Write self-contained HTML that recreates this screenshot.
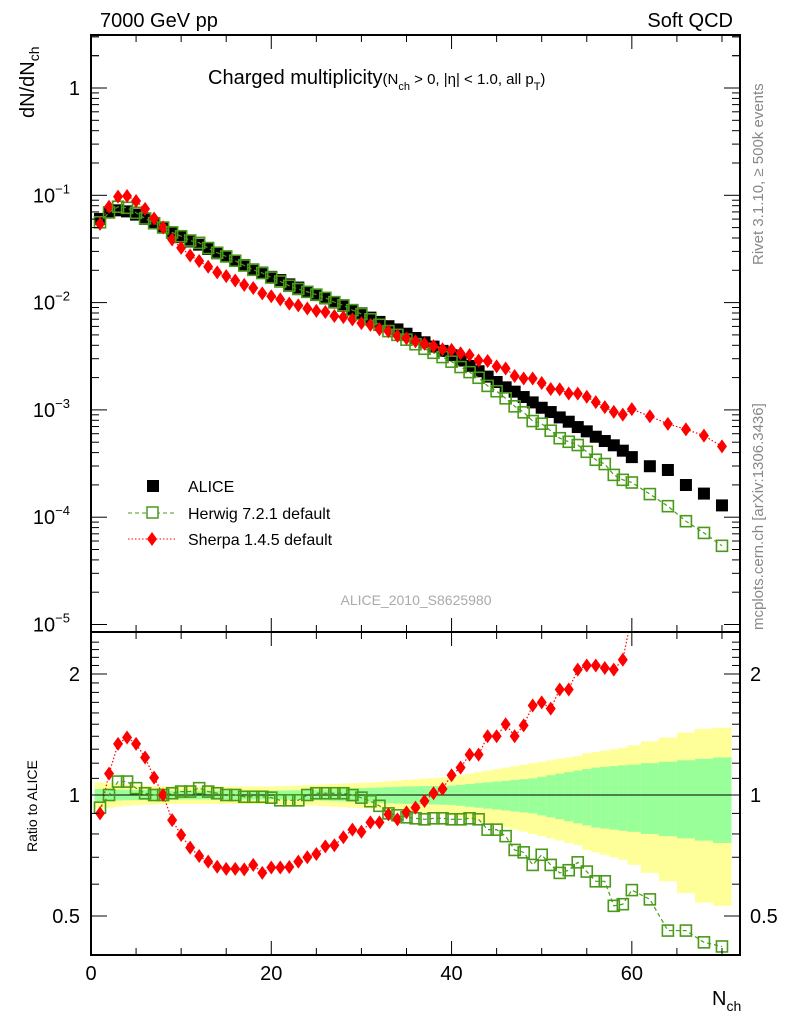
<!DOCTYPE html>
<html><head><meta charset="utf-8"><style>
body{margin:0;background:#fff;}
svg{display:block;font-family:"Liberation Sans",sans-serif;}
</style></head><body>
<svg id="c" width="786" height="1024" viewBox="0 0 786 1024">
<g id="bands"></g>
<g id="marks"></g>
<g id="axes"></g>
<text x="100" y="27" font-size="20">7000 GeV pp</text>
<text x="733" y="27" font-size="20" text-anchor="end">Soft QCD</text>
<text x="208" y="84" font-size="20">Charged multiplicity<tspan font-size="15">(N</tspan><tspan font-size="11" dy="6">ch</tspan><tspan font-size="15" dy="-6"> &gt; 0, |η| &lt; 1.0, all p</tspan><tspan font-size="11" dy="6">T</tspan><tspan font-size="15" dy="-6">)</tspan></text>
<text transform="translate(34,118) rotate(-90)" font-size="20">dN/dN<tspan font-size="14" dy="5">ch</tspan></text>
<text transform="translate(37,852) rotate(-90)" font-size="14">Ratio to ALICE</text>
<text transform="translate(763,265) rotate(-90)" font-size="15" fill="#888">Rivet 3.1.10, ≥ 500k events</text>
<text transform="translate(763,630) rotate(-90)" font-size="15" fill="#888">mcplots.cern.ch [arXiv:1306.3436]</text>
<text x="416" y="605" font-size="14" fill="#aaa" text-anchor="middle">ALICE_2010_S8625980</text>
<text x="712" y="1005" font-size="20">N<tspan font-size="14" dy="6">ch</tspan></text>
<g>
<rect x="147" y="480" width="12" height="12" fill="#000"/>
<text x="188" y="492" font-size="16">ALICE</text>
<line x1="128" y1="513" x2="176" y2="513" stroke="#4a9a1a" stroke-dasharray="4,3"/>
<rect x="147" y="507" width="11" height="11" fill="#fff" stroke="#4a9a1a" stroke-width="1.5"/>
<text x="188" y="519" font-size="16">Herwig 7.2.1 default</text>
<line x1="128" y1="539" x2="176" y2="539" stroke="#f00" stroke-dasharray="1.5,2"/>
<path d="M152,532 L157,539 L152,546 L147,539Z" fill="#f00"/>
<text x="188" y="545" font-size="16">Sherpa 1.4.5 default</text>
</g>
</svg>
<script>
const nch=[1,2,3,4,5,6,7,8,9,10,11,12,13,14,15,16,17,18,19,20,21,22,23,24,25,26,27,28,29,30,31,32,33,34,35,36,37,38,39,40,41,42,43,44,45,46,47,48,49,50,51,52,53,54,55,56,57,58,59,60,62,64,66,68,70];
const aliceLog10=[-1.22,-1.16,-1.14,-1.15,-1.18,-1.22,-1.26,-1.30,-1.35,-1.39,-1.43,-1.46,-1.50,-1.54,-1.57,-1.61,-1.65,-1.69,-1.72,-1.76,-1.79,-1.83,-1.86,-1.90,-1.93,-1.96,-2.00,-2.03,-2.07,-2.10,-2.14,-2.18,-2.22,-2.25,-2.29,-2.33,-2.37,-2.41,-2.45,-2.49,-2.54,-2.59,-2.64,-2.69,-2.74,-2.79,-2.83,-2.88,-2.93,-2.98,-3.02,-3.07,-3.11,-3.16,-3.20,-3.25,-3.29,-3.33,-3.38,-3.44,-3.525,-3.56,-3.70,-3.78,-3.89];
const herwigRatio=[0.93,1.0,1.08,1.08,1.04,1.01,1.0,1.0,1.01,1.02,1.02,1.04,1.02,1.01,1.0,1.0,0.99,0.99,0.99,0.985,0.97,0.97,0.97,1.0,1.01,1.01,1.01,1.01,1.0,0.985,0.965,0.94,0.9,0.89,0.88,0.875,0.87,0.875,0.875,0.87,0.87,0.875,0.87,0.82,0.82,0.79,0.73,0.72,0.67,0.71,0.67,0.64,0.65,0.68,0.645,0.61,0.61,0.53,0.535,0.58,0.55,0.46,0.46,0.43,0.42];
const sherpaRatio=[0.9,1.13,1.34,1.39,1.34,1.24,1.105,1.0,0.866,0.795,0.74,0.705,0.683,0.663,0.655,0.655,0.653,0.67,0.64,0.66,0.66,0.662,0.683,0.70,0.713,0.745,0.75,0.785,0.82,0.81,0.855,0.855,0.895,0.87,0.905,0.93,0.966,1.01,1.035,1.12,1.17,1.26,1.26,1.40,1.40,1.50,1.40,1.49,1.67,1.70,1.64,1.83,1.83,2.05,2.10,2.10,2.07,2.05,2.17,2.8,2.92,2.69,3.3,3.47,3.55];
const totErr=[0.075,0.07,0.065,0.06,0.058,0.055,0.053,0.052,0.05,0.05,0.05,0.05,0.05,0.05,0.05,0.05,0.05,0.05,0.05,0.05,0.052,0.054,0.056,0.058,0.06,0.062,0.065,0.068,0.07,0.072,0.075,0.078,0.082,0.086,0.09,0.094,0.098,0.102,0.106,0.11,0.12,0.13,0.14,0.15,0.16,0.17,0.18,0.19,0.2,0.21,0.22,0.23,0.24,0.25,0.27,0.28,0.29,0.3,0.31,0.33,0.36,0.39,0.43,0.46,0.47];
const statErr=[0.035,0.033,0.031,0.03,0.029,0.028,0.027,0.026,0.025,0.025,0.025,0.025,0.025,0.025,0.025,0.025,0.025,0.025,0.025,0.025,0.026,0.027,0.028,0.029,0.03,0.032,0.034,0.036,0.038,0.04,0.042,0.044,0.046,0.048,0.05,0.051,0.052,0.053,0.054,0.055,0.06,0.065,0.07,0.075,0.08,0.085,0.09,0.095,0.1,0.11,0.12,0.13,0.14,0.15,0.16,0.17,0.175,0.18,0.185,0.19,0.2,0.21,0.22,0.23,0.24];
const xTicks=[0,20,40,60];
const ratioTicks=[0.5,1,2];

const NS="http://www.w3.org/2000/svg";
const L=91,R=740,T=35,M=632,B=955;
const X=v=>L+(v-0)*(R-L)/72;
const Y=lv=>88-lv*107.3;
const YR=r=>795-Math.log10(r)*402;
function mk(tag,attrs,parent){const e=document.createElementNS(NS,tag);for(const k in attrs)e.setAttribute(k,attrs[k]);parent.appendChild(e);return e;}
const bands=document.getElementById('bands'),marks=document.getElementById('marks'),axes=document.getElementById('axes');

nch.forEach((n,i)=>{
  const lo=i===0?n-0.6:(n+nch[i-1])/2, hi=i===nch.length-1?n+1:(n+nch[i+1])/2;
  const x0=X(lo),x1=X(hi)+0.5;
  const yt=Math.max(YR(1+totErr[i]),M),yb=Math.min(YR(1-totErr[i]),B);
  const r1=mk('rect',{x:x0,y:yt,width:x1-x0,height:yb-yt,fill:'#ffff99'},bands);
  
  
  const st=YR(1+statErr[i]),sb=YR(1-statErr[i]);
  const r2=mk('rect',{x:x0,y:st,width:x1-x0,height:sb-st,fill:'#99ff99'},bands);
  
  
});
const ref=mk('line',{x1:L,y1:YR(1),x2:R,y2:YR(1),stroke:'#000','stroke-width':1},bands);



const defs=mk('defs',{},document.getElementById('c'));
const c1=mk('clipPath',{id:'cm'},defs);mk('rect',{x:L,y:T,width:R-L,height:M-T},c1);
const c2=mk('clipPath',{id:'cr'},defs);mk('rect',{x:L,y:M,width:R-L,height:B-M},c2);
const gm=mk('g',{'clip-path':'url(#cm)'},marks),gr=mk('g',{'clip-path':'url(#cr)'},marks);

const herLog=aliceLog10.map((a,i)=>a+Math.log10(herwigRatio[i]));
const sheLog=aliceLog10.map((a,i)=>a+Math.log10(sherpaRatio[i]));
function poly(g,pts,col,dash,name){const p=mk('polyline',{points:pts.join(' '),fill:'none',stroke:col,'stroke-width':1.2,'stroke-dasharray':dash},g);}
function sq(g,x,y,name){const r=mk('rect',{x:x-5.5,y:y-5.5,width:11,height:11,fill:'none',stroke:'#4a9a1a','stroke-width':1.6},g);}
function dia(g,x,y,name){const d=mk('path',{d:`M${x},${y-7}L${x+5},${y}L${x},${y+7}L${x-5},${y}Z`,fill:'#f00'},g);}
nch.forEach((n,i)=>{
  const a=mk('rect',{x:X(n)-6,y:Y(aliceLog10[i])-6,width:12,height:12,fill:'#000'},gm);
  
  
});
poly(gm,nch.map((n,i)=>X(n)+','+Y(herLog[i])),'#4a9a1a','4,3','herwig-line');
poly(gm,nch.map((n,i)=>X(n)+','+Y(sheLog[i])),'#f00','1.5,2','sherpa-line');
poly(gr,nch.map((n,i)=>X(n)+','+YR(herwigRatio[i])),'#4a9a1a','4,3','herwig-ratio-line');
poly(gr,nch.map((n,i)=>X(n)+','+YR(sherpaRatio[i])),'#f00','1.5,2','sherpa-ratio-line');
nch.forEach((n,i)=>{
  const x=X(n);
  sq(gm,x,Y(herLog[i]),'herwig-point');
  dia(gm,x,Y(sheLog[i]),'sherpa-point');
  sq(gr,x,YR(herwigRatio[i]),'herwig-ratio-point');
  dia(gr,x,YR(sherpaRatio[i]),'sherpa-ratio-point');
});

[[T,M],[M,B]].forEach(([a,b])=>{const f=mk('rect',{x:L,y:a,width:R-L,height:b-a,fill:'none',stroke:'#000','stroke-width':2},axes);});
for(let v=0;v<=72;v+=5){
  const major=v%20===0,len=major?14:7,x=X(v);
  [[T,1],[M,-1],[M,1],[B,-1]].forEach(([y,d])=>mk('line',{x1:x,y1:y,x2:x,y2:y+d*len,stroke:'#000','stroke-width':1},axes));
}
xTicks.forEach(v=>{const t=mk('text',{x:X(v),y:980,'font-size':20,'text-anchor':'middle'},axes);t.textContent=v;});
for(let e=-5;e<=0;e++){
  for(let m=1;m<=9;m++){
    const lv=e+Math.log10(m),y=Y(lv);if(y<T||y>M)continue;
    const len=m===1?16:8;
    mk('line',{x1:L,y1:y,x2:L+len,y2:y,stroke:'#000'},axes);
    mk('line',{x1:R,y1:y,x2:R-len,y2:y,stroke:'#000'},axes);
  }
  const t=mk('text',{x:80,y:Y(e)+7,'font-size':20,'text-anchor':'end'},axes);
  
  
  if(e===0)t.textContent='1';else{t.setAttribute('x',70);t.textContent='10';const s=mk('tspan',{'font-size':13,dy:-9},t);s.textContent=String(e).replace('-','−');}
}
for(let m=1;m<=9;m++){const y=Y(Math.log10(m));if(y>=T){mk('line',{x1:L,y1:y,x2:L+8,y2:y,stroke:'#000'},axes);mk('line',{x1:R,y1:y,x2:R-8,y2:y,stroke:'#000'},axes);}}
[0.4,0.5,0.6,0.7,0.8,0.9,1,2].forEach(v=>{const y=YR(v);const len=(v===0.5||v===1||v===2)?16:8;mk('line',{x1:L,y1:y,x2:L+len,y2:y,stroke:'#000'},axes);mk('line',{x1:R,y1:y,x2:R-len,y2:y,stroke:'#000'},axes);});
for(let v=1.1;v<2.5;v+=0.1){if(Math.abs(v-2)<0.01)continue;const y=YR(v);mk('line',{x1:L,y1:y,x2:L+8,y2:y,stroke:'#000'},axes);mk('line',{x1:R,y1:y,x2:R-8,y2:y,stroke:'#000'},axes);}
ratioTicks.forEach(v=>{
  const t1=mk('text',{x:80,y:YR(v)+7,'font-size':20,'text-anchor':'end'},axes);t1.textContent=v;
  
  
  const t2=mk('text',{x:750,y:YR(v)+7,'font-size':20},axes);t2.textContent=v;
  
  
});
</script>
</body></html>
